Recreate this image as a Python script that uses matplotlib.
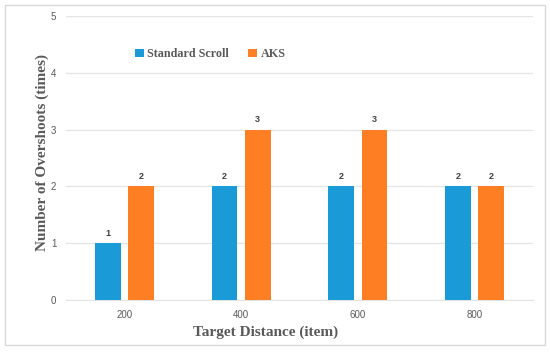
import numpy as np
import matplotlib.pyplot as plt
from matplotlib.patches import Rectangle

# Datos
distances = ['200', '400', '600', '800']
standard_scroll = [1, 2, 2, 2]
aks = [2, 3, 3, 2]

blue = '#1a9bd7'
orange = '#fe7f23'
label_color = '#595959'

fig = plt.figure(figsize=(5.5, 3.54), dpi=100)
ax = fig.add_axes([0.12, 0.1525, 0.849, 0.8025])

x = np.arange(len(distances))
w = 0.22
off = 0.143
b1 = ax.bar(x - off, standard_scroll, w, color=blue, label='Standard Scroll', zorder=3)
b2 = ax.bar(x + off, aks, w, color=orange, label='AKS', zorder=3)

for bars in (b1, b2):
    for r in bars:
        ax.text(r.get_x() + r.get_width() / 2, r.get_height() + 0.1, f'{int(r.get_height())}',
                ha='center', va='bottom', fontsize=6.5, fontweight='bold', color='#404040',
                family='Liberation Sans')

ax.set_xlim(-0.5, len(distances) - 0.5)
ax.set_ylim(0, 5)
ax.set_yticks(range(6))
ax.set_xticks(x)
ax.set_xticklabels(distances)
ax.yaxis.grid(True, color='#e4e4e4', linewidth=0.9, zorder=0)
ax.tick_params(length=0, labelsize=7, colors=label_color, pad=7)
for lab in ax.get_xticklabels() + ax.get_yticklabels():
    lab.set_family('Liberation Sans')
for s in ax.spines.values():
    s.set_visible(False)
ax.spines['bottom'].set_visible(True)
ax.spines['bottom'].set_color('#e4e4e4')

# Títulos de ejes (el del eje x está desplazado a la izquierda como en el original)
fig.text(266 / 550, 1 - 332 / 354, 'Target Distance (item)', family='Liberation Serif',
         fontweight='bold', fontsize=11, color=label_color, ha='center', va='center')
fig.text(42 / 550, 1 - 153 / 354, 'Number of Overshoots (times)', family='Liberation Serif',
         fontweight='bold', fontsize=11, color=label_color, ha='center', va='center',
         rotation=90)

leg = ax.legend(loc='upper left', bbox_to_anchor=(0.125, 0.925), ncol=2, frameon=False,
                prop={'family': 'Liberation Serif', 'weight': 'bold', 'size': 8.7},
                handlelength=0.7, handleheight=0.7, handletextpad=0.3, columnspacing=1.6)
for t in leg.get_texts():
    t.set_color(label_color)

# Marco exterior
fig.patches.append(Rectangle((0.009, 0.025), 0.982, 0.962, transform=fig.transFigure,
                             fill=False, edgecolor='#d9d9d9', linewidth=1))

fig.savefig('out.png', dpi=100)
